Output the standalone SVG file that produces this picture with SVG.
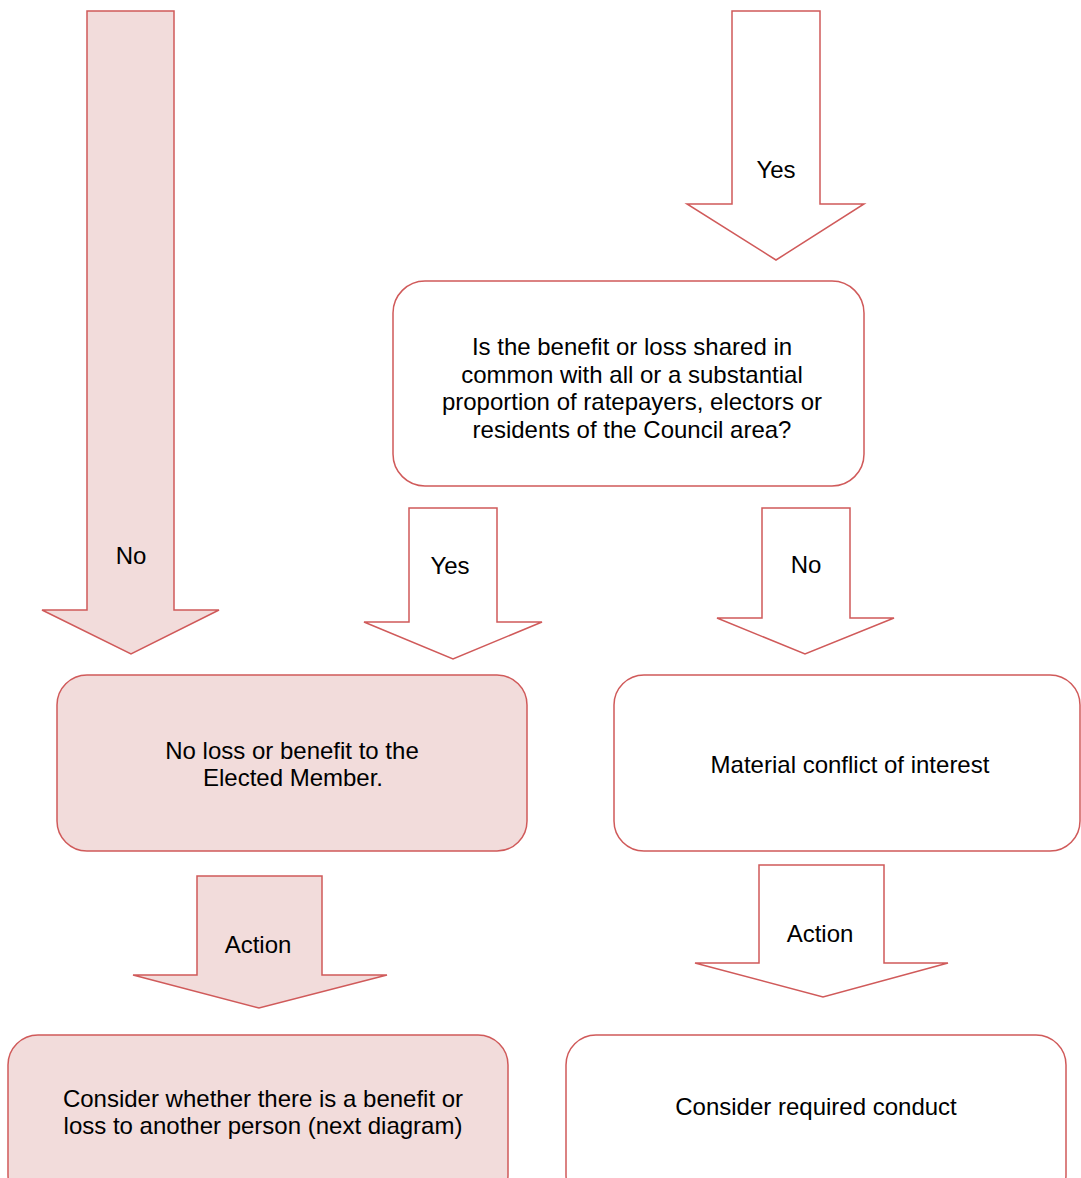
<svg xmlns="http://www.w3.org/2000/svg" width="1081" height="1178" viewBox="0 0 1081 1178">
<style>
.pk{fill:#f2dcdb;stroke:#d05a5a;stroke-width:1.5}
.wh{fill:#ffffff;stroke:#d05a5a;stroke-width:1.5}
text{font-family:"Liberation Sans",Arial,sans-serif;font-size:24px;fill:#000;text-anchor:middle}
</style>
<rect width="1081" height="1178" fill="#fff"/>
<g id="connectors">
<polygon id="arrow-no-left" class="pk" points="87,11 174,11 174,610 219,610 131,654 42,610 87,610"/>
<text x="131" y="564">No</text>
<polygon id="arrow-yes-top" class="wh" points="732,11 820,11 820,204 864,204 776,260 687,204 732,204"/>
<text x="776" y="178">Yes</text>
<polygon id="arrow-yes-mid" class="wh" points="409,508 497,508 497,622 542,622 453,659 364,622 409,622"/>
<text x="450" y="574">Yes</text>
<polygon id="arrow-no-mid" class="wh" points="762,508 850,508 850,618 894,618 805,654 717,618 762,618"/>
<text x="806" y="573">No</text>
<polygon id="arrow-action-left" class="pk" points="197,876 322,876 322,975 387,975 259,1008 133,975 197,975"/>
<text x="258" y="953">Action</text>
<polygon id="arrow-action-right" class="wh" points="759,865 884,865 884,963 948,963 823,997 695,963 759,963"/>
<text x="820" y="942">Action</text>
</g>
<g id="decision">
<rect class="wh" x="393" y="281" width="471" height="205" rx="32"/>
<text x="632" y="355">Is the benefit or loss shared in</text>
<text x="632" y="383">common with all or a substantial</text>
<text x="632" y="410">proportion of ratepayers, electors or</text>
<text x="632" y="438">residents of the Council area?</text>
</g>
<g id="no-loss">
<rect class="pk" x="57" y="675" width="470" height="176" rx="30"/>
<text x="292" y="759">No loss or benefit to the</text>
<text x="293" y="786">Elected Member.</text>
</g>
<g id="material">
<rect class="wh" x="614" y="675" width="466" height="176" rx="30"/>
<text x="850" y="773">Material conflict of interest</text>
</g>
<g id="consider-other">
<rect class="pk" x="8" y="1035" width="500" height="170" rx="30"/>
<text x="263" y="1107">Consider whether there is a benefit or</text>
<text x="263" y="1134">loss to another person (next diagram)</text>
</g>
<g id="consider-conduct">
<rect class="wh" x="566" y="1035" width="500" height="170" rx="30"/>
<text x="816" y="1115">Consider required conduct</text>
</g>
</svg>
